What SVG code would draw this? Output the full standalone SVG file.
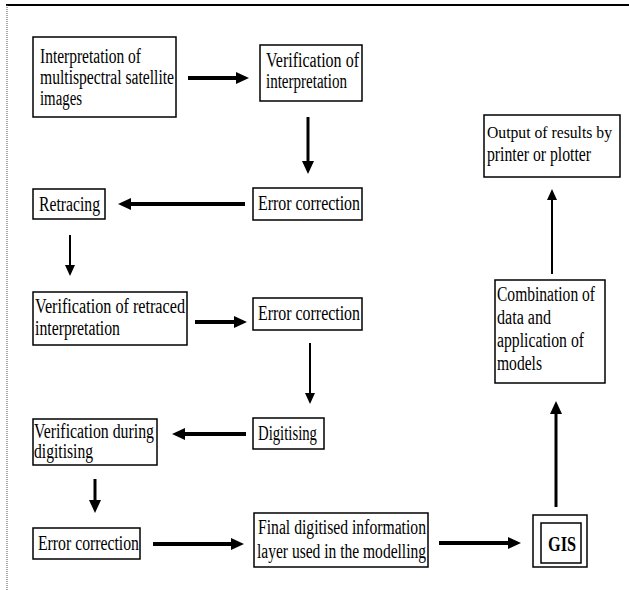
<svg xmlns="http://www.w3.org/2000/svg" width="629" height="590" viewBox="0 0 629 590">
<defs>
<style>
.box{fill:#fff;stroke:#000;stroke-width:1.5}
.t{font-family:"Liberation Serif","Times New Roman",serif;font-size:20px;fill:#000}
.b{font-family:"Liberation Serif","Times New Roman",serif;font-size:20px;font-weight:bold;fill:#000}
.thick{stroke:#000;stroke-width:4;fill:none}
.mid{stroke:#000;stroke-width:3;fill:none}
.thin{stroke:#000;stroke-width:2;fill:none}
</style>
<marker id="ah" markerUnits="userSpaceOnUse" markerWidth="14" markerHeight="12" refX="1" refY="6" orient="auto" viewBox="0 0 14 12">
<path d="M0,0 L13,6 L0,12 z" fill="#000"/>
</marker>
<marker id="ahs" markerUnits="userSpaceOnUse" markerWidth="12" markerHeight="10" refX="1" refY="5" orient="auto" viewBox="0 0 12 10">
<path d="M0,0 L11,5 L0,10 z" fill="#000"/>
</marker>
</defs>
<rect width="629" height="590" fill="#fff"/>
<g id="frame">
<line x1="6" y1="5" x2="629" y2="5" stroke="#000" stroke-width="2"/>
<line x1="7" y1="5" x2="7" y2="590" stroke="#555" stroke-width="1" stroke-dasharray="1,1"/>
</g>
<g id="connectors">
<line class="thick" x1="188" y1="78" x2="237" y2="78" marker-end="url(#ah)"/>
<line class="mid" x1="308" y1="117" x2="308" y2="162" marker-end="url(#ah)"/>
<line class="thick" x1="245" y1="204" x2="130" y2="204" marker-end="url(#ah)"/>
<line class="thin" x1="70" y1="235" x2="70" y2="266" marker-end="url(#ahs)"/>
<line class="thick" x1="195" y1="322" x2="235" y2="322" marker-end="url(#ah)"/>
<line class="thin" x1="310" y1="343" x2="310" y2="394" marker-end="url(#ahs)"/>
<line class="thick" x1="246" y1="434" x2="184" y2="434" marker-end="url(#ah)"/>
<line class="mid" x1="95" y1="479" x2="95" y2="501" marker-end="url(#ah)"/>
<line class="thick" x1="153" y1="544" x2="232" y2="544" marker-end="url(#ah)"/>
<line class="thick" x1="439" y1="543" x2="509" y2="543" marker-end="url(#ah)"/>
<line class="mid" x1="556" y1="507" x2="556" y2="413" marker-end="url(#ah)"/>
<line class="thin" x1="552" y1="274" x2="552" y2="199" marker-end="url(#ahs)"/>
</g>
<g id="n1">
<rect class="box" x="33" y="37" width="143" height="80"/>
<text class="t" x="40" y="63" textLength="101" lengthAdjust="spacingAndGlyphs">Interpretation of</text>
<text class="t" x="40" y="84" textLength="134" lengthAdjust="spacingAndGlyphs">multispectral  satellite</text>
<text class="t" x="40" y="105" textLength="42" lengthAdjust="spacingAndGlyphs">images</text>
</g>
<g id="n2">
<rect class="box" x="260" y="45" width="102" height="56"/>
<text class="t" x="266" y="67" textLength="93" lengthAdjust="spacingAndGlyphs">Verification of</text>
<text class="t" x="266" y="88" textLength="81" lengthAdjust="spacingAndGlyphs">interpretation</text>
</g>
<g id="n3">
<rect class="box" x="253" y="188" width="109" height="32"/>
<text class="t" x="258" y="210" textLength="102" lengthAdjust="spacingAndGlyphs">Error correction</text>
</g>
<g id="n4">
<rect class="box" x="33" y="189" width="72" height="30"/>
<text class="t" x="39" y="211" textLength="61" lengthAdjust="spacingAndGlyphs">Retracing</text>
</g>
<g id="n5">
<rect class="box" x="33" y="292" width="154" height="53"/>
<text class="t" x="35" y="313" textLength="150" lengthAdjust="spacingAndGlyphs">Verification of retraced</text>
<text class="t" x="35" y="335" textLength="85" lengthAdjust="spacingAndGlyphs">interpretation</text>
</g>
<g id="n6">
<rect class="box" x="253" y="298" width="109" height="32"/>
<text class="t" x="258" y="320" textLength="102" lengthAdjust="spacingAndGlyphs">Error correction</text>
</g>
<g id="n7">
<rect class="box" x="253" y="418" width="71" height="31"/>
<text class="t" x="258" y="440" textLength="59" lengthAdjust="spacingAndGlyphs">Digitising</text>
</g>
<g id="n8">
<rect class="box" x="33" y="419" width="124" height="46"/>
<text class="t" x="34" y="438" textLength="120" lengthAdjust="spacingAndGlyphs">Verification during</text>
<text class="t" x="34" y="458" textLength="59" lengthAdjust="spacingAndGlyphs">digitising</text>
</g>
<g id="n9">
<rect class="box" x="33" y="528" width="107" height="31"/>
<text class="t" x="38" y="550" textLength="101" lengthAdjust="spacingAndGlyphs">Error correction</text>
</g>
<g id="n10">
<rect class="box" x="254" y="513" width="174" height="54"/>
<text class="t" x="258" y="534" textLength="168" lengthAdjust="spacingAndGlyphs">Final digitised information</text>
<text class="t" x="257" y="558" textLength="169" lengthAdjust="spacingAndGlyphs">layer used in the modelling</text>
</g>
<g id="n11">
<rect class="box" x="533" y="515" width="54" height="52"/>
<rect class="box" x="541" y="523" width="40" height="40"/>
<text class="b" x="548" y="551" textLength="28" lengthAdjust="spacingAndGlyphs">GIS</text>
</g>
<g id="n12">
<rect class="box" x="495" y="280" width="110" height="103"/>
<text class="t" x="497" y="301" textLength="98" lengthAdjust="spacingAndGlyphs">Combination of</text>
<text class="t" x="497" y="324" textLength="54" lengthAdjust="spacingAndGlyphs">data and</text>
<text class="t" x="497" y="347" textLength="87" lengthAdjust="spacingAndGlyphs">application of</text>
<text class="t" x="497" y="370" textLength="45" lengthAdjust="spacingAndGlyphs">models</text>
</g>
<g id="n13">
<rect class="box" x="484" y="115" width="136" height="62"/>
<text class="t" x="487" y="138" style="font-size:17px" textLength="125" lengthAdjust="spacingAndGlyphs">Output of results by</text>
<text class="t" x="487" y="161" textLength="104" lengthAdjust="spacingAndGlyphs">printer or plotter</text>
</g>
</svg>
